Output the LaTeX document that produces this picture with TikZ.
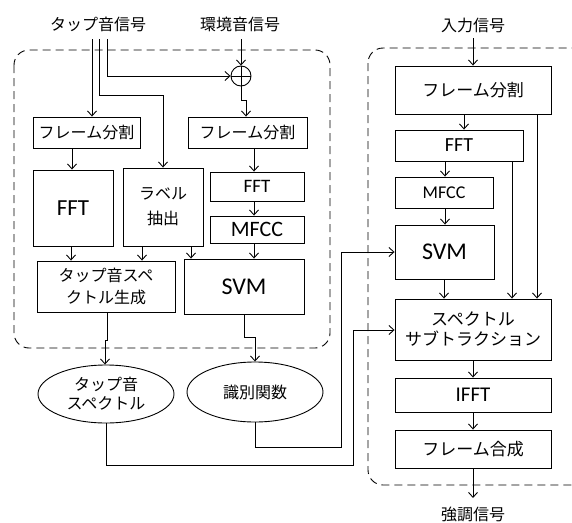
\documentclass[tikz,border=0pt]{standalone}
\usepackage{fontspec}
\setmainfont{Carlito}
\newfontfamily\jp{Noto Sans CJK JP}
\usetikzlibrary{arrows.meta,calc}
\tikzset{
  conn/.style={line width=0.9pt},
  arr/.style={conn,-{Straight Barb[length=5pt,width=9pt,line width=0.9pt]}},
  blk/.style={draw,line width=0.9pt,inner sep=0pt,align=center},
  ell/.style={draw,line width=0.9pt,ellipse,inner sep=0pt,align=center},
  grp/.style={draw,line width=0.9pt,dash pattern=on 8pt off 5pt,rounded corners=15pt},
  jtxt/.style={font=\jp\fontsize{16}{19}\selectfont},
  ltxt/.style={font=\fontsize{20}{24}\selectfont},
}
\usetikzlibrary{shapes.geometric}
\begin{document}
\begin{tikzpicture}[x=1pt,y=-1pt]
\useasboundingbox (0,0) rectangle (572,522);
% groups
\draw[grp] (14,50) rectangle (330,348);
\begin{scope}
\clip (0,0) rectangle (572,522);
\draw[grp] (368,48) rectangle (600,485);
\end{scope}
% labels
\node[jtxt] (lblTap) at (98,24) {タップ音信号};
\node[jtxt] (lblEnv) at (240,24) {環境音信号};
\node[jtxt] (lblIn) at (473,25) {入力信号};
\node[jtxt] (lblOut) at (473,514) {強調信号};
% sum
\node[draw,circle,line width=0.9pt,minimum size=20pt,inner sep=0pt,
  path picture={\draw[line width=0.9pt] (path picture bounding box.north) -- (path picture bounding box.south)
  (path picture bounding box.west) -- (path picture bounding box.east);}] (sum) at (241,76) {};
% left group blocks
\node[blk,jtxt,minimum width=107pt,minimum height=31pt] (fsL) at (86.5,132.5) {フレーム分割};
\node[blk,jtxt,minimum width=119pt,minimum height=31pt] (fsR) at (247.5,132.5) {フレーム分割};
\node[blk,minimum width=80pt,minimum height=76pt,font=\fontsize{23}{27}\selectfont] (fftL) at (73,208) {FFT};
\node[blk,minimum width=80pt,minimum height=78pt,font=\jp\fontsize{16}{25}\selectfont] (lab) at (163,207) {ラベル\\抽出};
\node[blk,minimum width=94pt,minimum height=29pt,font=\fontsize{19}{23}\selectfont] (fftS) at (257,186.5) {FFT};
\node[blk,minimum width=94pt,minimum height=27pt,font=\fontsize{22}{26}\selectfont] (mfccL) at (257,229.5) {MFCC};
\node[blk,minimum width=138pt,minimum height=51pt,font=\jp\fontsize{16}{22}\selectfont] (tsg) at (106,286.5) {タップ音スペ\\クトル生成};
\node[blk,minimum width=120pt,minimum height=55pt,font=\fontsize{24}{28}\selectfont] (svmL) at (244,286.5) {SVM};
\node[ell,minimum width=136pt,minimum height=58pt,font=\jp\fontsize{16}{19}\selectfont] (ell1) at (106,394) {タップ音\\スペクトル};
\node[ell,minimum width=136pt,minimum height=60pt,jtxt] (ell2) at (255,392) {識別関数};
% right group blocks
\node[blk,jtxt,font=\jp\fontsize{17}{20}\selectfont,minimum width=156pt,minimum height=48pt] (fsRR) at (473,90) {フレーム分割};
\node[blk,minimum width=128pt,minimum height=31pt,font=\fontsize{20}{24}\selectfont] (fftR) at (459,145.5) {FFT};
\node[blk,minimum width=98pt,minimum height=31pt,font=\fontsize{18}{22}\selectfont] (mfccR) at (444,192.5) {MFCC};
\node[blk,minimum width=99pt,minimum height=54pt,font=\fontsize{24}{28}\selectfont] (svmR) at (444.5,252) {SVM};
\node[blk,minimum width=156pt,minimum height=61pt,font=\jp\fontsize{17}{20}\selectfont] (ss) at (473,329.5) {スペクトル\\サブトラクション};
\node[blk,minimum width=156pt,minimum height=34pt,font=\fontsize{21}{25}\selectfont] (ifft) at (473,395) {IFFT};
\node[blk,minimum width=156pt,minimum height=38pt,font=\jp\fontsize{17}{20}\selectfont] (fsyn) at (473,449) {フレーム合成};
% coordinates
\coordinate (t1) at (92,39);
\coordinate (t2) at (99,39);
\coordinate (t3) at (107,39);
\coordinate (e1) at (241,39);
\coordinate (in1) at (473,38);
\coordinate (out1) at (473,498);
% connectors, left group
\draw[arr] (t1) -- (t1 |- fsL.north);
\draw[arr] (t2) |- (163,95) -- (163,95 |- lab.north);
\draw[arr] (t3) |- (sum.west);
\draw[arr] (e1) -- (sum.north);
\draw[arr] (sum.south) -- (241,100) -- (246,100) -- (246,100 |- fsR.north);
\draw[arr] (72,148) -- (72,148 |- fftL.north);
\draw[arr] (254,148) -- (254,148 |- fftS.north);
\draw[arr] (254,201) -- (254,201 |- mfccL.north);
\draw[arr] (71,246) -- (71,246 |- tsg.north);
\draw[arr] (142,246) -- (142,246 |- tsg.north);
\draw[arr] (191,246) -- (191,246 |- svmL.north);
\draw[arr] (254,243) -- (254,243 |- svmL.north);
\draw[arr] (107,312) -- (107,340) -- (105,340) -- (105,340 |- ell1.north);
\draw[arr] (244,314) -- (244,337) -- (255,337) -- (ell2.north);
\draw[arr] (ell2.south) -- (255,447) -- (341,447) -- (341,252) -- (svmR.west);
\draw[arr] (ell1.south) -- (106,465) -- (353,465) -- (353,330) -- (353,330 -| ss.west);
% connectors, right group
\draw[arr] (in1) -- (fsRR.north);
\draw[arr] (464,114) -- (464,114 |- fftR.north);
\draw[arr] (445,161) -- (445,161 |- mfccR.north);
\draw[arr] (445,208) -- (445,208 |- svmR.north);
\draw[arr] (444,279) -- (444,279 |- ss.north);
\draw[arr] (512,161) -- (512,161 |- ss.north);
\draw[arr] (537,114) -- (537,114 |- ss.north);
\draw[arr] (ss.south) -- (ifft.north);
\draw[arr] (ifft.south) -- (fsyn.north);
\draw[arr] (fsyn.south) -- (out1);
\end{tikzpicture}
\end{document}
